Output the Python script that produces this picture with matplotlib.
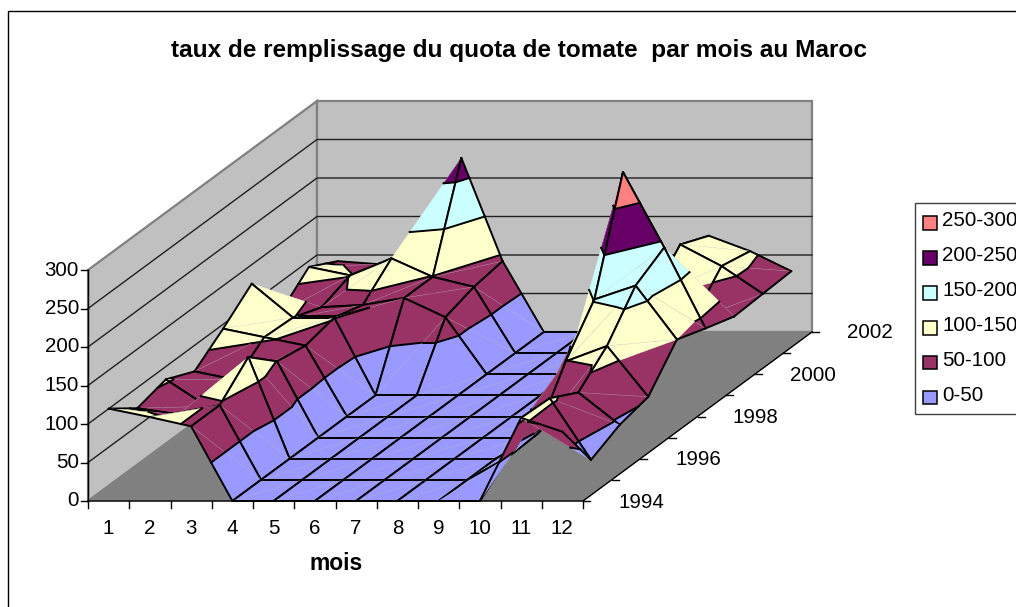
import matplotlib
matplotlib.use("Agg")
import matplotlib.pyplot as plt
from matplotlib.patches import Polygon, Rectangle

plt.rcParams['font.family'] = ['Liberation Sans', 'DejaVu Sans']

mois = [1, 2, 3, 4, 5, 6, 7, 8, 9, 10, 11, 12]
annees = [1994, 1995, 1996, 1997, 1998, 1999, 2000, 2001, 2002]

# taux de remplissage, one list per year, months 1 to 12
taux_1994 = [120, 109, 97, 0, 0, 0, 0, 0, 0, 0, 108, 90]
taux_1995 = [93, 85, 97, 0, 0, 0, 0, 0, 0, 30, 106, 26]
taux_1996 = [103, 68, 132, 0, 0, 0, 0, 0, 0, 32, 86, 44]
taux_1997 = [86, 75, 99, 0, 0, 0, 0, 0, 0, 99, 119, 53]
taux_1998 = [114, 103, 92, 0, 0, 0, 0, 0, 0, 152, 170, 100]
taux_1999 = [145, 101, 101, 0, 0, 0, 0, 0, 0, 290, 192, 87]
taux_2000 = [80, 87, 90, 99, 74, 0, 0, 0, 0, 100, 70, 75]
taux_2001 = [112, 101, 123, 99, 86, 0, 0, 0, 0, 141, 113, 77]
taux_2002 = [92, 88, 70, 226, 92, 0, 0, 0, 0, 125, 105, 79]
taux = [taux_1994, taux_1995, taux_1996, taux_1997, taux_1998,
        taux_1999, taux_2000, taux_2001, taux_2002]

niveaux = [0, 50, 100, 150, 200, 250, 300]
couleurs = ['#9999FF', '#993366', '#FFFFCC', '#CCFFFF', '#660066', '#FF8080']
legende = ['0-50', '50-100', '100-150', '150-200', '200-250', '250-300']

# oblique projection of the Excel 3D box, in pixels
X0, Y0 = 88, 501
LARG, PROF_X, PROF_Y, HAUT = 495, 229, 169, 231


def projette(m, a, z):
    # m in month units (category centres), a = 0..8 years from the front
    x = X0 + (m - 0.5) / 12 * LARG + a / 8 * PROF_X
    y = Y0 - a / 8 * PROF_Y - z / 300 * HAUT
    return x, y


def boite(u, a, z):
    # same thing but u = 0..12 along the floor edge
    return projette(u + 0.5, a, z)


def coupe(poly, niv, garde_haut):
    # clip polygon of (m, a, z) points against a z level
    res = []
    for i in range(len(poly)):
        p, q = poly[i], poly[(i + 1) % len(poly)]
        p_in = p[2] >= niv if garde_haut else p[2] <= niv
        q_in = q[2] >= niv if garde_haut else q[2] <= niv
        if p_in:
            res.append(p)
        if p_in != q_in:
            t = (niv - p[2]) / (q[2] - p[2])
            res.append((p[0] + t * (q[0] - p[0]), p[1] + t * (q[1] - p[1]), niv))
    return res


fig = plt.figure(figsize=(10.16, 6.07), dpi=100)
ax = fig.add_axes([0, 0, 1, 1])
ax.set_xlim(0, 1016)
ax.set_ylim(607, 0)
ax.axis('off')

# chart frame
ax.add_patch(Rectangle((8, 11), 1100, 700, fc='white', ec='black', lw=1.0, zorder=0))

# walls and floor
mur_g = [boite(0, 0, 0), boite(0, 8, 0), boite(0, 8, 300), boite(0, 0, 300)]
mur_f = [boite(0, 8, 0), boite(12, 8, 0), boite(12, 8, 300), boite(0, 8, 300)]
sol = [boite(0, 0, 0), boite(12, 0, 0), boite(12, 8, 0), boite(0, 8, 0)]
ax.add_patch(Polygon(mur_g, fc='#C0C0C0', ec='#808080', lw=1.6, zorder=1))
ax.add_patch(Polygon(mur_f, fc='#C0C0C0', ec='#808080', lw=1.6, zorder=1))
ax.add_patch(Polygon(sol, fc='#808080', ec='#808080', lw=0.5, zorder=1))

for v in range(50, 300, 50):
    pts = [boite(0, 0, v), boite(0, 8, v), boite(12, 8, v)]
    ax.plot([p[0] for p in pts], [p[1] for p in pts], color='#202020', lw=1.0, zorder=2)

# surface, back-left cells first, each quad split in two triangles
ordre = 3
def dessine_tri(tri, bords):
    global ordre
    for k, c in enumerate(couleurs):
        poly = coupe(coupe(tri, niveaux[k], True), niveaux[k + 1], False)
        if len(poly) >= 3:
            ax.fill(*zip(*[projette(*p) for p in poly]), fc=c, ec=c, lw=0.2, zorder=ordre)
    # faint diagonal
    d = [projette(*tri[0]), projette(*tri[2])]
    ax.plot(*zip(*d), color='#C8C8D0', lw=0.3, alpha=0.5, zorder=ordre + 1)
    # band limits
    for niv in niveaux[1:-1]:
        seg = []
        for i in range(3):
            p, q = tri[i], tri[(i + 1) % 3]
            if (p[2] - niv) * (q[2] - niv) < 0:
                t = (niv - p[2]) / (q[2] - p[2])
                seg.append(projette(p[0] + t * (q[0] - p[0]), p[1] + t * (q[1] - p[1]), niv))
        if len(seg) == 2:
            ax.plot(*zip(*seg), color='black', lw=1.4, zorder=ordre + 1)
    # grid edges of the cell
    for p, q in bords:
        ax.plot(*zip(projette(*p), projette(*q)), color='black', lw=1.4,
                solid_capstyle='round', zorder=ordre + 1)
    ordre += 2


for i in range(len(mois) - 1):
    for j in range(len(annees) - 2, -1, -1):
        a = (mois[i], j, taux[j][i])
        b = (mois[i + 1], j, taux[j][i + 1])
        c = (mois[i + 1], j + 1, taux[j + 1][i + 1])
        d = (mois[i], j + 1, taux[j + 1][i])
        dessine_tri([a, d, c], [(a, d), (d, c)])
        dessine_tri([a, b, c], [(a, b), (b, c)])

# axes
zt = ordre + 1
ax.plot(*zip(boite(0, 0, 0), boite(12, 0, 0), boite(12, 8, 0)), color='black', lw=1.0, zorder=zt)
ax.plot(*zip(boite(0, 0, 0), boite(0, 0, 300)), color='black', lw=1.0, zorder=zt)

for v in range(0, 301, 50):
    x, y = boite(0, 0, v)
    ax.plot([x - 7, x], [y, y], color='black', lw=1.0, zorder=zt)
    ax.text(x - 9, y, str(v), ha='right', va='center', fontsize=14.8, zorder=zt)

for k in range(13):
    x, y = boite(k, 0, 0)
    ax.plot([x, x], [y, y + 7], color='black', lw=1.0, zorder=zt)

for m in mois:
    x, y = projette(m, 0, 0)
    ax.text(x, y + 27, str(m), ha='center', va='center', fontsize=14.8, zorder=zt)

for k, an in enumerate(annees):
    x, y = boite(12, k, 0)
    ax.plot([x, x + 7], [y, y], color='black', lw=1.0, zorder=zt)
    if k % 2 == 0:
        ax.text(x + 35, y + 1, str(an), ha='left', va='center', fontsize=14.8, zorder=zt)

ax.text(519, 51, 'taux de remplissage du quota de tomate  par mois au Maroc',
        ha='center', va='center', fontsize=17.6, fontweight='bold')
ax.text(336, 564, 'mois', ha='center', va='center', fontsize=16.5, fontweight='bold')

# legend, runs off the right side like the original
ax.add_patch(Rectangle((915, 203), 300, 211, fc='white', ec='#404040', lw=1.0, zorder=zt))
for k in range(len(legende)):
    y = 397.3 - k * 34.9
    ax.add_patch(Rectangle((923, y - 6.5), 13.5, 13.5, fc=couleurs[k], ec='black', lw=1.1, zorder=zt + 1))
    ax.text(942, y - 2, legende[k], ha='left', va='center', fontsize=14.8, zorder=zt + 1)

fig.savefig('out.png', dpi=100)
